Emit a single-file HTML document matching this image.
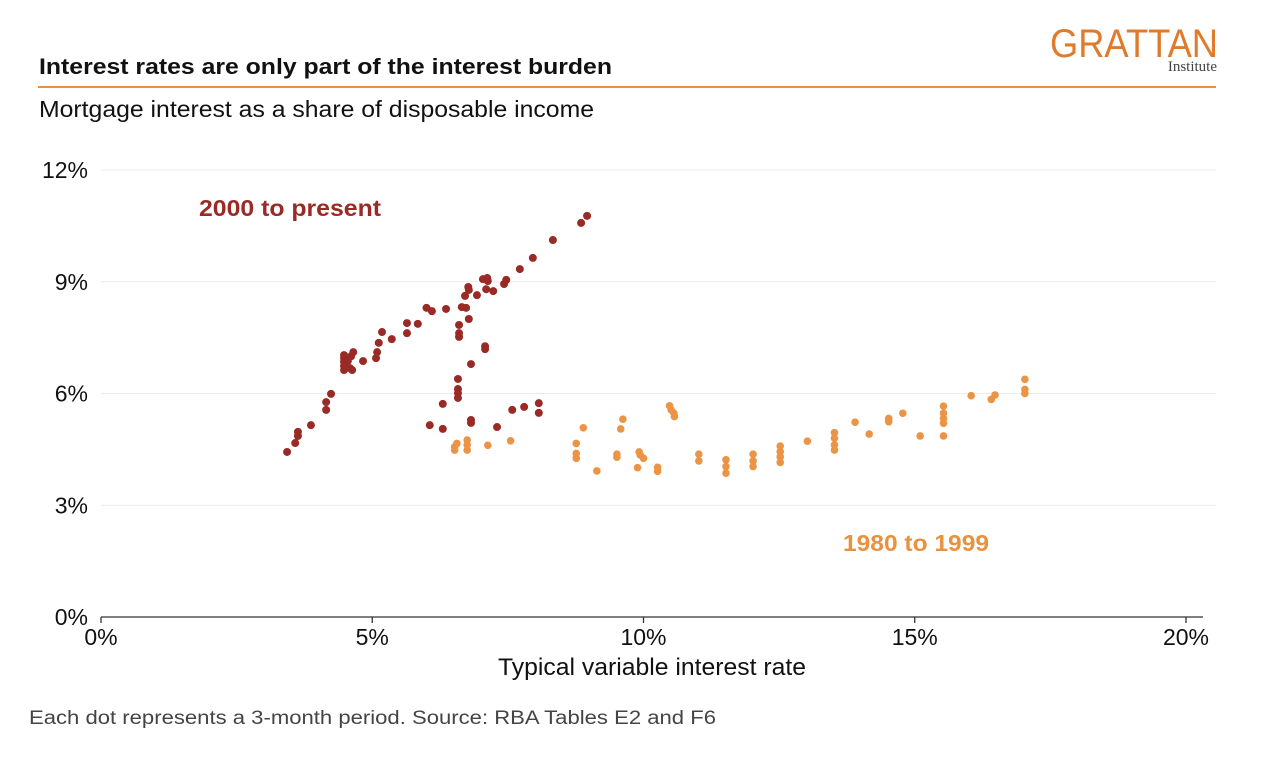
<!DOCTYPE html>
<html><head><meta charset="utf-8"><style>
html,body{margin:0;padding:0;background:#fff;}
svg{display:block;font-family:"Liberation Sans",sans-serif;}
</style></head><body>
<svg id="chart" width="1276" height="758" viewBox="0 0 1276 758" xmlns="http://www.w3.org/2000/svg">
<text x="1050" y="57" font-size="40" fill="#e07b2c" textLength="168" lengthAdjust="spacingAndGlyphs">GRATTAN</text>
<text x="1217" y="71" font-size="15" fill="#444" text-anchor="end" font-family="Liberation Serif, serif">Institute</text>
<text x="39" y="74" font-size="22" font-weight="bold" fill="#111" textLength="573" lengthAdjust="spacingAndGlyphs">Interest rates are only part of the interest burden</text>
<line x1="38" y1="87" x2="1216" y2="87" stroke="#e8913f" stroke-width="2"/>
<text x="39" y="117" font-size="23" fill="#111" textLength="555" lengthAdjust="spacingAndGlyphs">Mortgage interest as a share of disposable income</text>
<g id="grid"></g>
<g id="yticks"></g>
<g id="xticks"></g>
<g id="dots"></g>
<text x="199" y="216" font-size="23" font-weight="bold" fill="#9a2a26" textLength="182" lengthAdjust="spacingAndGlyphs">2000 to present</text>
<text x="843" y="551" font-size="23" font-weight="bold" fill="#e8913f" textLength="146" lengthAdjust="spacingAndGlyphs">1980 to 1999</text>
<text x="498" y="675" font-size="24" fill="#111" textLength="308" lengthAdjust="spacingAndGlyphs">Typical variable interest rate</text>
<text x="29" y="724" font-size="19" fill="#444" textLength="687" lengthAdjust="spacingAndGlyphs">Each dot represents a 3-month period. Source: RBA Tables E2 and F6</text>
</svg>
<script>
const yTicks=[0,3,6,9,12];
const yTickLabels=["0%","3%","6%","9%","12%"];
const xTicks=[0,5,10,15,20];
const xTickLabels=["0%","5%","10%","15%","20%"];
const recentX=[3.43,3.58,3.63,3.63,3.87,4.15,4.15,4.24,4.48,4.48,4.48,4.48,4.48,4.55,4.59,4.63,4.65,4.61,4.83,5.07,5.09,5.12,5.18,5.36,5.64,5.64,5.84,6.0,6.1,6.36,6.6,6.6,6.6,6.65,6.73,6.78,6.71,6.77,6.78,6.93,7.04,7.12,7.13,7.1,7.23,7.43,7.47,7.72,7.96,8.33,8.85,8.96,7.08,7.08,6.82,6.58,6.58,6.58,6.58,6.3,6.06,6.3,6.82,6.82,7.3,7.58,7.8,8.07,8.07];
const recentY=[4.43,4.67,4.86,4.97,5.15,5.56,5.77,5.99,7.03,6.95,6.85,6.74,6.63,6.87,6.68,6.63,7.11,7.0,6.87,6.95,7.11,7.36,7.65,7.46,7.89,7.62,7.87,8.3,8.21,8.27,7.84,7.62,7.52,8.32,8.3,8.0,8.62,8.86,8.78,8.64,9.07,9.1,9.02,8.8,8.75,8.94,9.05,9.34,9.64,10.12,10.58,10.77,7.19,7.27,6.79,6.39,6.12,6.01,5.88,5.72,5.15,5.05,5.29,5.21,5.1,5.56,5.64,5.74,5.48];
const oldX=[6.52,6.52,6.56,6.75,6.75,6.75,7.13,7.55,8.89,8.76,8.76,8.76,9.14,9.62,9.58,9.51,9.51,9.92,9.94,10.0,9.89,10.26,10.26,10.48,10.51,10.56,10.57,11.02,11.02,11.52,11.52,11.52,12.02,12.02,12.02,12.52,12.52,12.52,12.52,13.02,13.52,13.52,13.52,13.52,13.9,14.16,14.52,14.52,14.78,15.1,15.53,15.53,15.53,15.53,15.53,16.04,16.41,16.48,17.03,17.03,17.03];
const oldY=[4.57,4.48,4.66,4.75,4.62,4.48,4.61,4.73,5.08,4.66,4.39,4.26,3.92,5.31,5.05,4.37,4.29,4.43,4.35,4.26,4.01,4.02,3.91,5.67,5.56,5.47,5.38,4.37,4.19,4.22,4.04,3.86,4.37,4.19,4.04,4.59,4.44,4.3,4.15,4.72,4.95,4.8,4.62,4.48,5.23,4.91,5.33,5.24,5.47,4.86,5.66,5.47,5.33,5.2,4.86,5.94,5.84,5.96,6.38,6.11,6.0];

const NS="http://www.w3.org/2000/svg";
const xS=v=>101+v*54.25;
const yS=v=>617-v*37.25;
function mk(tag,parent,attrs){const e=document.createElementNS(NS,tag);for(const k in attrs)e.setAttribute(k,attrs[k]);parent.appendChild(e);return e;}
const grid=document.getElementById('grid'),yt=document.getElementById('yticks'),xt=document.getElementById('xticks'),dots=document.getElementById('dots');
yTicks.forEach((v,i)=>{
  if(v>0){const l=mk('line',grid,{x1:101,x2:1216,y1:yS(v),y2:yS(v),stroke:'#ececec','stroke-width':1});
  
  }
  const t=mk('text',yt,{x:88,y:yS(v)+8,'font-size':23,fill:'#111','text-anchor':'end'});
  t.textContent=yTickLabels[i];
  
  
});
const ax=mk('line',xt,{x1:101,x2:1203,y1:617,y2:617,stroke:'#333','stroke-width':1.3});


xTicks.forEach((v,i)=>{
  const tk=mk('line',xt,{x1:xS(v),x2:xS(v),y1:617,y2:623,stroke:'#333','stroke-width':1.3});
  
  
  const t=mk('text',xt,{x:xS(v),y:645,'font-size':23,fill:'#111','text-anchor':'middle'});
  t.textContent=xTickLabels[i];
  
  
});
oldX.forEach((v,i)=>{
  const c=mk('circle',dots,{cx:xS(v),cy:yS(oldY[i]),r:3.8,fill:'#eb9446'});
  
  
});
recentX.forEach((v,i)=>{
  const c=mk('circle',dots,{cx:xS(v),cy:yS(recentY[i]),r:4,fill:'#9a2a26'});
  
  
});
</script>
</body></html>
